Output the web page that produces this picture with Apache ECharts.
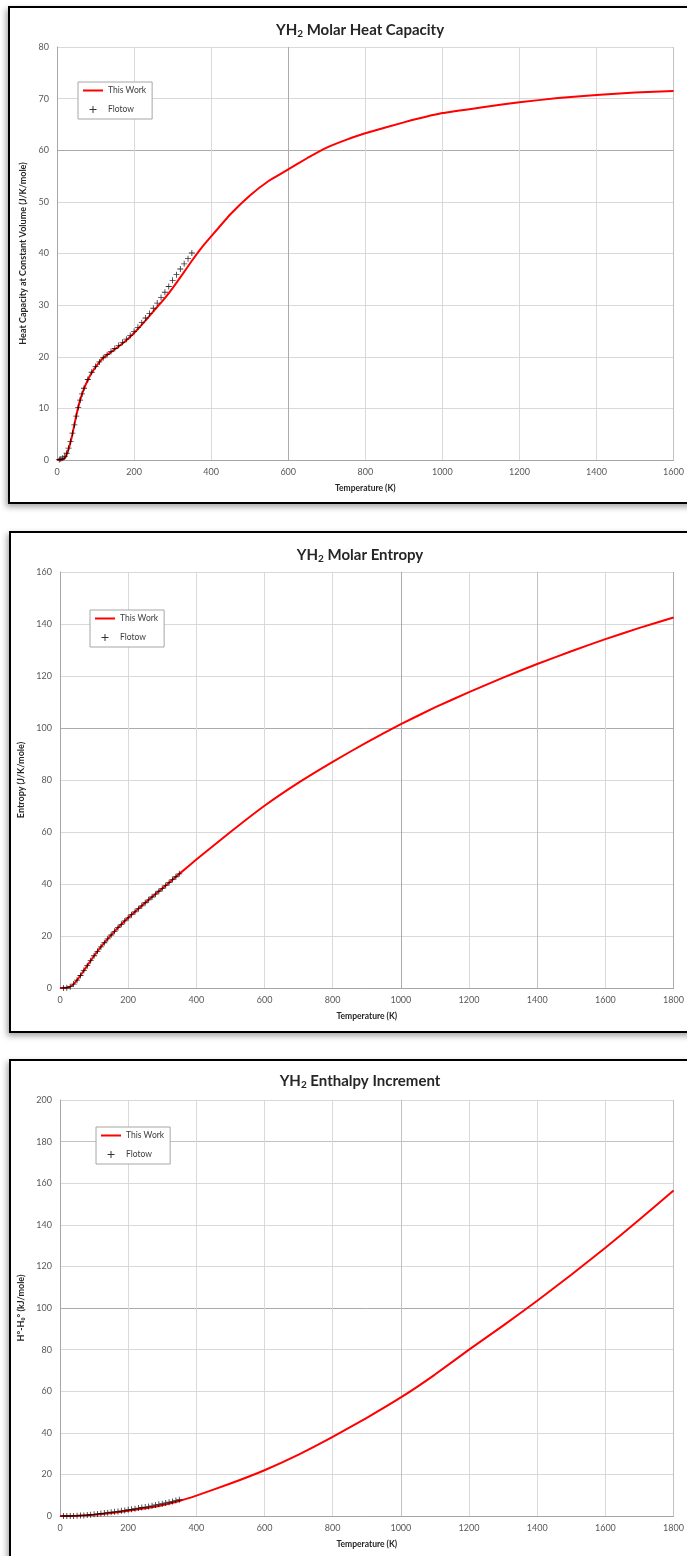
<!DOCTYPE html>
<html>
<head>
<meta charset="utf-8">
<title>YH2 thermodynamic functions</title>
<script src="https://cdn.jsdelivr.net/npm/echarts@6/dist/echarts.min.js"></script>
<style>
  html, body { margin: 0; padding: 0; background: #ffffff; overflow: hidden; }
  body { width: 687px; height: 1556px; position: relative; }
  .frame {
    position: absolute; box-sizing: border-box; background: #ffffff;
    border: 2px solid #000000; box-shadow: -2px 3px 6px rgba(0,0,0,0.35);
  }
  #f1 { left: 8px; top: 6px; width: 720px; height: 498px; }
  #f2 { left: 9px; top: 531px; width: 720px; height: 502px; }
  #f3 { left: 9px; top: 1059px; width: 720px; height: 520px; }
  #chart { position: absolute; left: 0; top: 0; width: 687px; height: 1556px; }
</style>
</head>
<body>
<div class="frame" id="f1"></div>
<div class="frame" id="f2"></div>
<div class="frame" id="f3"></div>
<div id="chart"></div>
<script>
// ---- Heat capacity at constant volume, J/K/mole ----
const cvTemps = [0, 10, 20, 30, 40, 50, 60, 70, 80, 90, 100, 120, 140, 160, 180, 200, 225, 250, 275, 300, 325, 350, 375, 400, 450, 500, 550, 600, 650, 700, 750, 800, 900, 1000, 1100, 1200, 1300, 1400, 1500, 1600];
const cvThisWork = [0, 0.05, 0.3, 2.1, 5.0, 8.6, 11.6, 13.8, 15.5, 16.9, 18.0, 19.8, 20.9, 22.0, 23.2, 24.6, 26.6, 28.8, 30.9, 33.3, 35.9, 38.6, 41.1, 43.3, 47.6, 51.2, 54.1, 56.3, 58.5, 60.5, 62.0, 63.3, 65.4, 67.2, 68.3, 69.3, 70.1, 70.7, 71.2, 71.5];
const cvFlotowTemps = [6, 10, 15, 20, 25, 30, 35, 40, 45, 50, 55, 60, 65, 70, 80, 90, 100, 110, 120, 130, 140, 150, 160, 170, 180, 190, 200, 210, 220, 230, 240, 250, 260, 270, 280, 290, 300, 310, 320, 330, 340, 350];
const cvFlotow = [0.1, 0.2, 0.4, 0.7, 1.3, 2.3, 3.6, 5.2, 6.8, 8.5, 10.2, 11.6, 12.8, 13.9, 15.6, 17.0, 18.1, 19.0, 19.8, 20.4, 21.0, 21.6, 22.2, 22.8, 23.4, 24.1, 24.9, 25.7, 26.6, 27.5, 28.4, 29.4, 30.4, 31.5, 32.5, 33.6, 34.8, 35.9, 37.0, 38.0, 39.0, 40.1];

// ---- Entropy, J/K/mole ----
const sTemps = [0, 10, 20, 30, 40, 50, 60, 70, 80, 90, 100, 120, 140, 160, 180, 200, 250, 300, 350, 400, 500, 600, 700, 800, 900, 1000, 1100, 1200, 1300, 1400, 1500, 1600, 1700, 1800];
const sThisWork = [0, 0.02, 0.1, 0.5, 1.5, 3.0, 4.8, 6.7, 8.6, 10.5, 12.4, 15.8, 18.9, 21.8, 24.5, 27.0, 32.8, 38.3, 43.9, 49.4, 60.0, 70.1, 79.0, 87.0, 94.5, 101.5, 107.9, 113.8, 119.4, 124.6, 129.5, 134.2, 138.5, 142.5];
const sFlotowTemps = [10, 20, 30, 40, 50, 60, 70, 80, 90, 100, 110, 120, 130, 140, 150, 160, 170, 180, 190, 200, 210, 220, 230, 240, 250, 260, 270, 280, 290, 300, 310, 320, 330, 340, 350];
const sFlotow = [0.02, 0.1, 0.5, 1.5, 3.0, 4.8, 6.7, 8.6, 10.5, 12.4, 14.1, 15.8, 17.4, 18.9, 20.4, 21.8, 23.2, 24.5, 25.8, 27.0, 28.2, 29.3, 30.5, 31.6, 32.8, 33.9, 35.0, 36.1, 37.2, 38.3, 39.4, 40.5, 41.7, 42.8, 43.9];

// ---- Enthalpy increment, kJ/mole ----
const hTemps = [0, 50, 100, 150, 200, 250, 300, 350, 400, 500, 600, 700, 800, 900, 1000, 1100, 1200, 1300, 1400, 1500, 1600, 1700, 1800];
const hThisWork = [0, 0.1, 0.6, 1.4, 2.5, 3.7, 5.2, 7.2, 9.8, 15.6, 22.0, 29.5, 38.0, 47.2, 57.0, 68.0, 80.0, 91.5, 103.5, 116.0, 129.0, 142.5, 156.5];
const hFlotowTemps = [10, 20, 30, 40, 50, 60, 70, 80, 90, 100, 110, 120, 130, 140, 150, 160, 170, 180, 190, 200, 210, 220, 230, 240, 250, 260, 270, 280, 290, 300, 310, 320, 330, 340, 350];
const hFlotow = [0.0, 0.0, 0.02, 0.05, 0.1, 0.2, 0.3, 0.45, 0.6, 0.8, 1.0, 1.2, 1.4, 1.6, 1.8, 2.0, 2.2, 2.5, 2.7, 3.0, 3.2, 3.5, 3.8, 4.1, 4.3, 4.6, 4.9, 5.3, 5.6, 5.9, 6.3, 6.6, 7.0, 7.4, 7.8];

const seriesNames = ['This Work', 'Flotow'];

const pairs = (xs, ys) => xs.map((x, i) => [x, ys[i]]);

const FONT = 'Lato, "Open Sans", sans-serif';
const LIGHT = '#d9d9d9';
const DARK = '#ababab';
const MID = '#c2c2c2';
// thin "+" marker
const PLUS = 'path://M-0.14,-1H0.14V-0.14H1V0.14H0.14V1H-0.14V0.14H-1V-0.14H-0.14Z';
// short red bar used as the legend key of the line series
const BAR = 'path://M0,0H12V1.2H0Z';

function titleOf(rest, top) {
  return {
    text: '{m|YH}{s|2}{m| ' + rest + '}',
    left: 355, top: top, textAlign: 'center',
    textStyle: {
      rich: {
        m: { fontFamily: FONT, fontWeight: 'bold', fontSize: 15, color: '#262626' },
        s: { fontFamily: FONT, fontWeight: 'bold', fontSize: 10, color: '#262626', padding: [8, 0, 0, 0] }
      }
    }
  };
}

const plainNumber = v => String(v);

function xAxisOf(idx, max, vColors) {
  return {
    type: 'value', gridIndex: idx, min: 0, max: max, interval: 200,
    name: 'Temperature (K)', nameLocation: 'middle', nameGap: 24,
    nameTextStyle: { fontFamily: FONT, fontWeight: 'bold', fontSize: 8.5, color: '#262626' },
    axisLine: { show: true, lineStyle: { color: '#a6a6a6', width: 1 } },
    axisTick: { show: false },
    axisLabel: { fontFamily: FONT, fontSize: 9, color: '#595959', margin: 8, formatter: plainNumber },
    splitLine: { show: true, lineStyle: { color: vColors, width: 1 } }
  };
}

function yAxisOf(idx, max, step, name, gap, hColors) {
  return {
    type: 'value', gridIndex: idx, min: 0, max: max, interval: step,
    name: name, nameLocation: 'middle', nameRotate: 90, nameGap: gap,
    nameTextStyle: { fontFamily: FONT, fontWeight: 'bold', fontSize: 9, color: '#262626' },
    axisLine: { show: true, lineStyle: { color: '#a6a6a6', width: 1 } },
    axisTick: { show: false },
    axisLabel: { fontFamily: FONT, fontSize: 9, color: '#595959', margin: 8, formatter: plainNumber },
    splitLine: { show: true, lineStyle: { color: hColors, width: 1 } }
  };
}

function legendOf(left, top) {
  return {
    left: left, top: top, orient: 'vertical',
    padding: [4, 6, 5, 5], itemGap: 10, itemWidth: 20, itemHeight: 7,
    backgroundColor: '#ffffff', borderColor: '#a6a6a6', borderWidth: 1,
    textStyle: { fontFamily: FONT, fontSize: 8.5, color: '#404040' },
    data: [
      { name: seriesNames[0], icon: BAR, itemStyle: { color: '#ff0000' } },
      { name: seriesNames[1], icon: PLUS, itemStyle: { color: '#000000' } }
    ],
    selectedMode: false
  };
}

function lineSeries(idx, xs, ys) {
  return {
    name: seriesNames[0], type: 'line', xAxisIndex: idx, yAxisIndex: idx,
    data: pairs(xs, ys), smooth: 0.12, symbol: 'none',
    lineStyle: { color: '#ff0000', width: 2 }, itemStyle: { color: '#ff0000' }, z: 3
  };
}

function markerSeries(idx, xs, ys) {
  return {
    name: seriesNames[1], type: 'scatter', xAxisIndex: idx, yAxisIndex: idx,
    data: pairs(xs, ys), symbol: PLUS, symbolSize: 6,
    itemStyle: { color: '#000000' }, z: 4
  };
}

const chart = echarts.init(document.getElementById('chart'), null, { renderer: 'canvas' });

chart.setOption({
  animation: false,
  title: [
    titleOf('Molar Heat Capacity', 16),
    titleOf('Molar Entropy', 541),
    titleOf('Enthalpy Increment', 1067)
  ],
  legend: [legendOf(78, 82), legendOf(90, 610), legendOf(96, 1127)],
  grid: [
    { left: 57, top: 47, width: 622, height: 413 },
    { left: 60, top: 572, width: 620, height: 416 },
    { left: 60, top: 1100, width: 621, height: 416 }
  ],
  xAxis: [
    xAxisOf(0, 1600, [LIGHT, LIGHT, LIGHT, DARK, LIGHT, LIGHT, LIGHT, LIGHT, MID]),
    xAxisOf(1, 1800, [LIGHT, LIGHT, LIGHT, LIGHT, LIGHT, DARK, LIGHT, MID, LIGHT, DARK]),
    xAxisOf(2, 1800, [LIGHT, LIGHT, LIGHT, LIGHT, LIGHT, MID, LIGHT, LIGHT, LIGHT, MID])
  ],
  yAxis: [
    yAxisOf(0, 80, 10, 'Heat Capacity at Constant Volume (J/K/mole)', 22,
      [LIGHT, LIGHT, LIGHT, LIGHT, LIGHT, LIGHT, DARK, LIGHT, LIGHT]),
    yAxisOf(1, 160, 20, 'Entropy (J/K/mole)', 25,
      [LIGHT, LIGHT, LIGHT, LIGHT, LIGHT, DARK, LIGHT, LIGHT, LIGHT]),
    yAxisOf(2, 200, 20, 'H°-H\u2080° (kJ/mole)', 25,
      [LIGHT, LIGHT, LIGHT, LIGHT, LIGHT, DARK, LIGHT, LIGHT, LIGHT, MID, LIGHT])
  ],
  series: [
    lineSeries(0, cvTemps, cvThisWork),
    markerSeries(0, cvFlotowTemps, cvFlotow),
    lineSeries(1, sTemps, sThisWork),
    markerSeries(1, sFlotowTemps, sFlotow),
    lineSeries(2, hTemps, hThisWork),
    markerSeries(2, hFlotowTemps, hFlotow)
  ]
});
</script>
</body>
</html>
